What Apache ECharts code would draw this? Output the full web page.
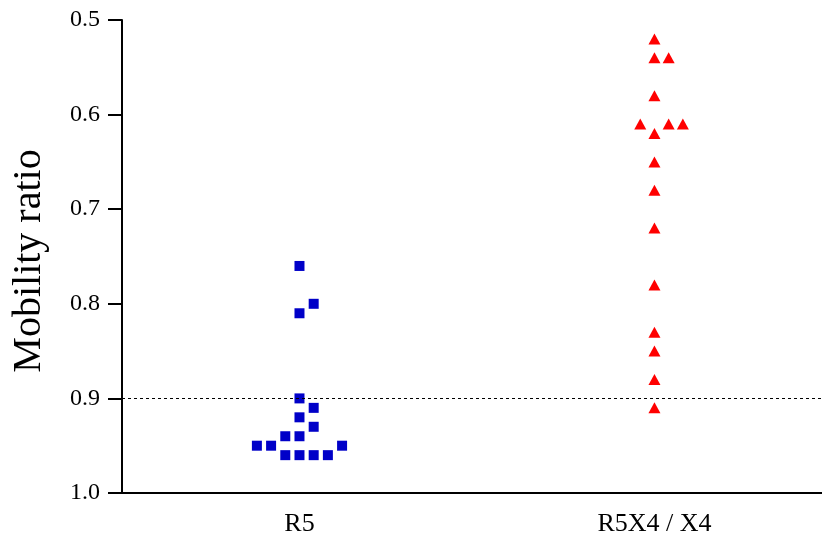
<!DOCTYPE html>
<html>
<head>
<meta charset="utf-8">
<script src="https://cdn.jsdelivr.net/npm/echarts@6/dist/echarts.min.js"></script>
<style>
  html, body { margin: 0; padding: 0; background: #fff; }
  #chart { width: 822px; height: 542px; }
</style>
</head>
<body>
<div id="chart"></div>
<script>
// Groups along the horizontal axis
const categories = ['R5', 'R5X4 / X4'];

// Mobility ratio per lane, with the column slot each point sits in (dot-plot stacking)
const r5Values = [0.76, 0.80, 0.81, 0.90, 0.91, 0.92, 0.93, 0.94, 0.94, 0.95, 0.95, 0.95, 0.96, 0.96, 0.96, 0.96];
const r5Slots  = [0, 1, 0, 0, 1, 0, 1, -1, 0, -3, -2, 3, -1, 0, 1, 2];

const r5x4Values = [0.52, 0.54, 0.54, 0.58, 0.61, 0.61, 0.61, 0.62, 0.65, 0.68, 0.72, 0.78, 0.83, 0.85, 0.88, 0.91];
const r5x4Slots  = [0, 0, 1, 0, -1, 1, 2, 0, 0, 0, 0, 0, 0, 0, 0, 0];

// Y-axis ticks and the reference threshold
const yTicks = [0.5, 0.6, 0.7, 0.8, 0.9, 1.0];
const threshold = 0.9;

const slotWidth = 0.04;
const serif = 'Liberation Serif';

function points(groupIndex, values, slots) {
  return values.map((v, i) => [groupIndex + 1 + slots[i] * slotWidth, v]);
}

const chart = echarts.init(document.getElementById('chart'), null, { renderer: 'canvas' });

chart.setOption({
  animation: false,
  backgroundColor: '#ffffff',
  grid: { left: 122, right: 0, top: 20, bottom: 49, containLabel: false },
  xAxis: {
    type: 'value',
    min: 0.5,
    max: 2.472,
    axisLine: { onZero: false, lineStyle: { color: '#000', width: 2 } },
    axisTick: { show: false },
    splitLine: { show: false },
    axisLabel: {
      customValues: [1, 2],
      formatter: v => categories[Math.round(v) - 1] || '',
      fontFamily: serif,
      fontSize: 26,
      color: '#000',
      margin: 18
    }
  },
  yAxis: {
    type: 'value',
    inverse: true,
    min: yTicks[0],
    max: yTicks[yTicks.length - 1],
    interval: 0.1,
    axisLine: { show: true, lineStyle: { color: '#000', width: 2 } },
    axisTick: { show: true, length: 14, lineStyle: { color: '#000', width: 2 } },
    splitLine: { show: false },
    axisLabel: {
      formatter: v => v.toFixed(1),
      fontFamily: serif,
      fontSize: 24,
      color: '#000',
      margin: 22
    }
  },
  graphic: [{
    type: 'text',
    x: 29,
    y: 261,
    rotation: Math.PI / 2,
    style: {
      text: 'Mobility ratio',
      fontFamily: serif,
      fontSize: 40,
      fill: '#000',
      align: 'center',
      verticalAlign: 'middle'
    }
  }],
  series: [
    {
      name: categories[0],
      type: 'scatter',
      symbol: 'rect',
      symbolSize: 10,
      itemStyle: { color: '#0000C8', opacity: 1 },
      data: points(0, r5Values, r5Slots),
      markLine: {
        silent: true,
        symbol: 'none',
        label: { show: false },
        lineStyle: { color: '#000', width: 1, type: [3, 3] },
        data: [{ yAxis: threshold }]
      },
      z: 3
    },
    {
      name: categories[1],
      type: 'scatter',
      symbol: 'triangle',
      symbolSize: [12, 11],
      itemStyle: { color: '#FF0000', opacity: 1 },
      data: points(1, r5x4Values, r5x4Slots),
      z: 3
    }
  ]
});
</script>
</body>
</html>
